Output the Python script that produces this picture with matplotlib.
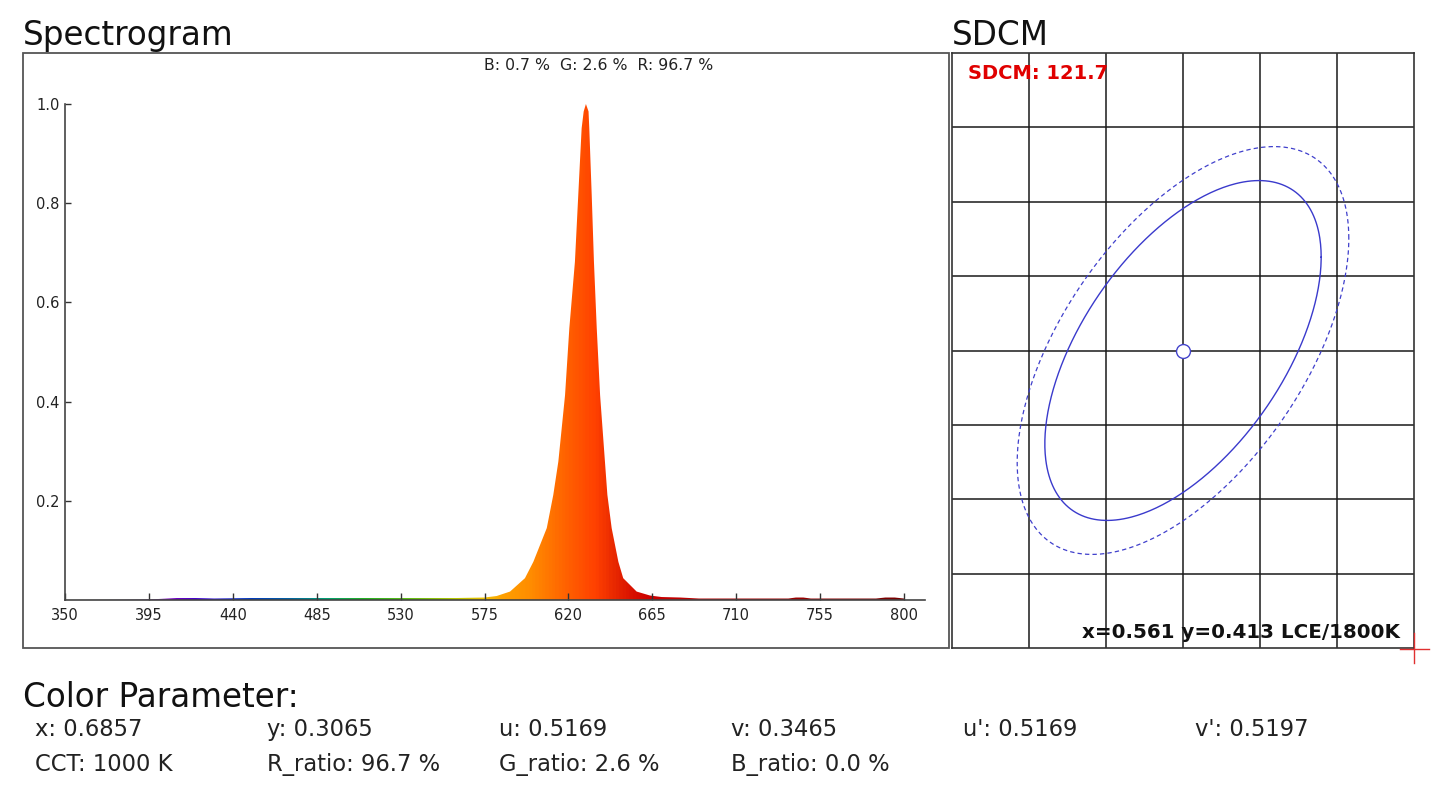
import numpy as np
import matplotlib
matplotlib.use("Agg")
import matplotlib.pyplot as plt
from matplotlib.colors import LinearSegmentedColormap
from matplotlib.patches import Rectangle, Polygon

plt.rcParams['font.family'] = ['DejaVu Sans']

# spectrum (nm, relative intensity)
wavelength = [350, 380, 400, 410, 420, 430, 450, 480, 510, 540, 560, 575,
              581.5, 588.7, 596.7, 601.2, 608.4, 611.9, 614.6, 618.2, 620.5,
              623.5, 625.3, 627.1, 628.2, 629.4, 630.8, 631.2, 632.5, 633.7, 635.2, 637.0,
              639.6, 640.9, 643.2, 646.8, 649.4, 656.6, 663.8, 670, 680, 690,
              700, 720, 738, 742, 746, 750, 770, 785, 790, 795, 800]
intensity = [0.0, 0.001, 0.002, 0.004, 0.004, 0.003, 0.004, 0.004, 0.004, 0.004, 0.004, 0.005,
             0.008, 0.017, 0.044, 0.077, 0.145, 0.212, 0.279, 0.413, 0.548,
             0.682, 0.817, 0.951, 0.985, 1.0, 0.985, 0.951, 0.817, 0.682, 0.548, 0.413,
             0.279, 0.212, 0.145, 0.077, 0.044, 0.017, 0.009, 0.006, 0.005, 0.003,
             0.003, 0.003, 0.003, 0.005, 0.005, 0.003, 0.003, 0.003, 0.005, 0.005, 0.003]
x_ticks = [350, 395, 440, 485, 530, 575, 620, 665, 710, 755, 800]
y_ticks = [0.2, 0.4, 0.6, 0.8, 1.0]
band_text = "B: 0.7 %  G: 2.6 %  R: 96.7 %"

# SDCM
sdcm_value = 121.7
ref_label = "x=0.561 y=0.413 LCE/1800K"
ellipse_cov = [[0.1288, 0.0901], [0.0901, 0.2088]]   # per step^2, grid units
ring_steps = [5, 6]
ring_styles = ['-', '--']

# colour parameters
param_rows = [
    ["x: 0.6857", "y: 0.3065", "u: 0.5169", "v: 0.3465", "u': 0.5169", "v': 0.5197"],
    ["CCT: 1000 K", "R_ratio: 96.7 %", "G_ratio: 2.6 %", "B_ratio: 0.0 %"],
]

W, H = 1445, 788
fig = plt.figure(figsize=(W / 100, H / 100), dpi=100)
fig.patch.set_facecolor('white')

def px_axes(x0, y0, x1, y1, **kw):
    return fig.add_axes([x0 / W, 1 - y1 / H, (x1 - x0) / W, (y1 - y0) / H], **kw)

# ---- spectrogram ----
ax = px_axes(65, 104, 925, 600, zorder=1)
ax.set_facecolor('none')
xmax = 350 + (925 - 65) * 45 / 83.9
ax.set_xlim(350, xmax)
ax.set_ylim(0, 1.0)

stops = [(350, '#d0d0d0'), (390, '#9a80b0'), (405, '#7a00c0'), (425, '#3000d0'),
         (445, '#0030c0'), (470, '#0060a0'), (490, '#00a070'), (510, '#20b020'),
         (540, '#70c010'), (560, '#b8c800'), (575, '#f0c000'), (585, '#ffa000'),
         (600, '#ff8c00'), (615, '#ff6a00'), (625, '#ff5500'), (635, '#ff4000'),
         (645, '#e82800'), (655, '#d81000'), (665, '#cc0000'), (700, '#b00000'),
         (760, '#900000'), (xmax, '#700000')]
cmap = LinearSegmentedColormap.from_list(
    'spec', [((w - 350) / (xmax - 350), c) for w, c in stops])
grad = np.linspace(0, 1, 1200).reshape(1, -1)
im = ax.imshow(grad, cmap=cmap, extent=[350, xmax, 0, 1], aspect='auto',
               origin='lower', interpolation='bilinear', zorder=1)
verts = np.column_stack([np.r_[wavelength[0], wavelength, wavelength[-1]],
                         np.r_[0, intensity, 0]])
shape = Polygon(verts, closed=True, facecolor='none', edgecolor='none',
                transform=ax.transData)
ax.add_patch(shape)
im.set_clip_path(shape)

for s in ['top', 'right']:
    ax.spines[s].set_visible(False)
for s in ['left', 'bottom']:
    ax.spines[s].set_color('#444444')
    ax.spines[s].set_linewidth(1.2)
    ax.spines[s].set_zorder(3)
ax.set_xticks(x_ticks)
ax.set_yticks(y_ticks)
ax.set_yticklabels([f"{v:.1f}" for v in y_ticks])
ax.tick_params(axis='x', direction='in', length=5, width=1, color='#333333',
               labelsize=10.5, labelcolor='#222222', pad=6)
ax.tick_params(axis='y', direction='in', length=4, width=1, color='#333333',
               labelsize=10.5, labelcolor='#222222', pad=4)

# ---- SDCM ----
ax2 = px_axes(952, 53, 1414, 648, zorder=1)
ax2.set_xlim(0, 6)
ax2.set_ylim(0, 8)
ax2.set_xticks(range(1, 6))
ax2.set_yticks(range(1, 8))
ax2.grid(True, color='#1a1a1a', lw=1.1)
ax2.tick_params(length=0, labelbottom=False, labelleft=False)
for s in ax2.spines.values():
    s.set_color('#333333')
    s.set_linewidth(1.2)

t = np.linspace(0, 2 * np.pi, 400)
center = np.array([3.0, 4.0])
for n, ls in zip(ring_steps, ring_styles):
    L = np.linalg.cholesky(np.array(ellipse_cov) * n ** 2)
    pts = center[:, None] + L @ np.vstack([np.cos(t), np.sin(t)])
    if ls == '--':
        ax2.plot(pts[0], pts[1], color='#4040cc', lw=0.9, dashes=(3.5, 2.5), zorder=3)
    else:
        ax2.plot(pts[0], pts[1], color='#3a3acc', lw=1.0, zorder=3)
ax2.plot(center[0], center[1], 'o', ms=10, mfc='white', mec='#4444cc', mew=1.0, zorder=4)

# ---- overlay: boxes and text ----
bg = fig.add_axes([0, 0, 1, 1], zorder=5)
bg.set_xlim(0, W)
bg.set_ylim(H, 0)
bg.axis('off')
bg.patch.set_alpha(0)
bg.add_patch(Rectangle((23, 53), 926, 595, fill=False, edgecolor='#555555', lw=1.3))

bg.text(23, 45, "Spectrogram", fontsize=23.5, ha='left', va='baseline', color='#111111')
bg.text(952, 45, "SDCM", fontsize=23.5, ha='left', va='baseline', color='#111111')
bg.text(484, 70, band_text, fontsize=11.3, ha='left', va='baseline', color='#222222')
bg.text(968, 79, f"SDCM: {sdcm_value}", fontsize=14, fontweight='bold',
        color='#e00000', ha='left', va='baseline')
bg.text(1400, 638, ref_label, fontsize=14.3, fontweight='bold', color='#111111',
        ha='right', va='baseline')
bg.plot([1400, 1429], [649, 649], color='#e03030', lw=1)
bg.plot([1414, 1414], [633, 663], color='#e03030', lw=1)

bg.text(23, 707, "Color Parameter:", fontsize=23.5, ha='left', va='baseline', color='#111111')
col_x = [35, 267, 499, 731, 963, 1195]
row_y = [736, 771]
for row, y in zip(param_rows, row_y):
    for txt, x in zip(row, col_x):
        bg.text(x, y, txt, fontsize=16.3, ha='left', va='baseline', color='#222222')

fig.savefig('out.png', dpi=100)
